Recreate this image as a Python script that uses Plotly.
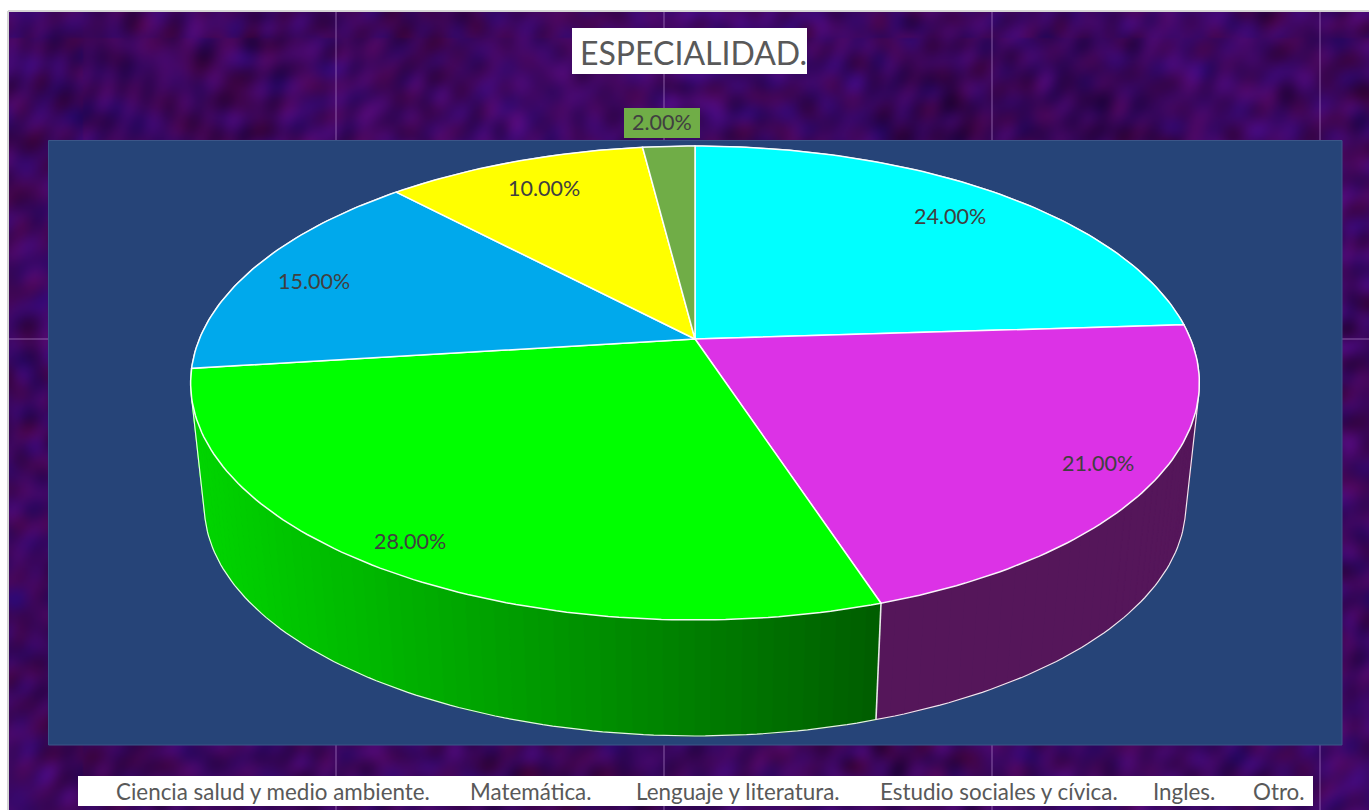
import base64, math, struct, zlib
import numpy as np
import plotly.graph_objects as go

# ---------- data ----------
categories = ["Ciencia salud y medio ambiente.", "Matemática.", "Lenguaje y literatura.",
              "Estudio sociales y cívica.", "Ingles.", "Otro."]
values = [24, 21, 28, 15, 10, 2]
title_text = "ESPECIALIDAD."

# ---------- style ----------
top_colors = ["#00FFFF", "#DC32E6", "#00FF00", "#00A9EC", "#FFFF00", "#70AD47"]
label_radius = [0.822, 0.889, 0.908, 0.847, 0.823, 1.148]
label_turn = [0.8, -0.3, 0.6, -1.8, 0.3, -0.4]
legend_x = [114, 468, 634, 878, 1151, 1251]
FONT = "Lato, Carlito, Calibri, sans-serif"

# projection of the pie (perspective disc seen from above)
CX, CY, A, B, K = 695.0, 339.0, 495.6, 228.8, 0.1857
SHRINK, LOWER_Y = 0.973, 462.6


def project(theta_deg, r=1.0):
    t = np.radians(theta_deg)
    u, v = r * np.sin(t), -r * np.cos(t)
    d = 1 - K * v
    return CX + A * u / d, CY + B * v / d


def lower(x, y):
    return CX + SHRINK * (x - CX), LOWER_Y + SHRINK * (y - CY)


def hull(points):
    pts = sorted(set(points))
    def half(seq):
        out = []
        for p in seq:
            while len(out) > 1 and ((out[-1][0]-out[-2][0])*(p[1]-out[-2][1])
                                    - (out[-1][1]-out[-2][1])*(p[0]-out[-2][0])) <= 0:
                out.pop()
            out.append(p)
        return out[:-1]
    return half(pts) + half(pts[::-1])


total = sum(values)
edges = np.cumsum([0] + values) / total * 360.0
fig = go.Figure()


def poly(xs, ys, fill, line=None, width=1.0):
    fig.add_trace(go.Scatter(x=list(xs), y=list(ys), mode="lines", fill="toself",
                             fillcolor=fill, hoverinfo="skip", showlegend=False,
                             line=dict(color=line or fill, width=width)))


# side wall: dark magenta from the right silhouette to the slice boundary, shaded green after it
def side_color(i, x):
    if i in (0, 1):
        return "#55165A"
    f = min(max((x - 200.0) / (875.0 - 200.0), 0), 1)
    g = 212 - 118 * f
    return f"rgb(0,{g:.0f},0)"


for i in (0, 1, 2):
    start, stop = edges[i], edges[i + 1]
    if i == 0:
        start = 70.0
    n = max(int((stop - start) / 1.5), 2)
    ang = np.linspace(start, stop, n + 1)
    for a0, a1 in zip(ang[:-1], ang[1:]):
        fine = np.linspace(a0, a1, 4)
        xt, yt = project(fine)
        xb, yb = lower(xt, yt)
        c = side_color(i, float(xt.mean()))
        poly(np.r_[xt, xb[::-1], xt[0]], np.r_[yt, yb[::-1], yt[0]], c)

# silhouette and bottom rim
rim = np.linspace(0, 360, 361)
xt, yt = project(rim)
xb, yb = lower(xt, yt)
h = hull([(float(a), float(b)) for a, b in zip(xt, yt)] +
         [(float(a), float(b)) for a, b in zip(xb, yb)])
fig.add_trace(go.Scatter(x=[p[0] for p in h] + [h[0][0]], y=[p[1] for p in h] + [h[0][1]],
                         mode="lines", hoverinfo="skip", showlegend=False,
                         line=dict(color="rgba(255,255,255,0.9)", width=1.2)))

# boundary between the two visible walls
xe, ye = project(edges[2])
xl, yl = lower(xe, ye)
fig.add_trace(go.Scatter(x=[xe, xl], y=[ye, yl], mode="lines", hoverinfo="skip", showlegend=False,
                         line=dict(color="#E8E8E8", width=1.6)))

# top faces
for i, c in enumerate(top_colors):
    ang = np.linspace(edges[i], edges[i + 1], max(int(values[i] * 3.6), 6) + 1)
    xs, ys = project(ang)
    poly(np.r_[CX, xs, CX], np.r_[CY, ys, CY], c, line="rgba(255,255,255,0.95)", width=1.5)

# data labels
annotations = []
for i, v in enumerate(values):
    mid = (edges[i] + edges[i + 1]) / 2 + label_turn[i]
    lx, ly = project(mid, label_radius[i])
    annotations.append(dict(x=float(lx), y=float(ly), yshift=1, text=f"{v / total * 100:.2f}%", showarrow=False,
                            xref="x", yref="y", font=dict(family=FONT, size=21.5, color="#404040")))

annotations.append(dict(x=693, y=52, text=title_text, showarrow=False, xref="x", yref="y",
                        font=dict(family=FONT, size=32, color="#595959")))
for name, x in zip(categories, legend_x):
    annotations.append(dict(x=x, y=791, text=name, showarrow=False, xref="x", yref="y", xanchor="left",
                            font=dict(family=FONT, size=22.4, color="#595959")))


# ---------- mottled wallpaper (smooth interference pattern, purely decorative) ----------
def wallpaper(w=680, h=400):
    yy, xx = np.mgrid[0:h, 0:w].astype(float)
    xx *= 2; yy *= 2
    fine = np.zeros((h, w))
    broad = np.zeros((h, w))
    for i in range(90):
        ang = i * 2.39996
        f = 0.09 + 0.16 * ((i * 0.618034) % 1)
        fine += np.sin(f * (np.cos(ang) * xx + np.sin(ang) * yy) + (i * i * 0.37) % 6.283)
    for i in range(24):
        ang = i * 2.39996 + 0.5
        f = 0.012 + 0.035 * ((i * 0.754878) % 1)
        broad += np.sin(f * (np.cos(ang) * xx + np.sin(ang) * yy) + (i * i * 0.53) % 6.283)
    fine /= fine.std()
    broad /= broad.std()
    n = 0.7 * fine + 0.5 * broad
    red = np.roll(0.7 * np.roll(fine, 37, axis=1) + 0.35 * np.roll(broad, 91, axis=0), 13, axis=0)
    r = np.clip(60 + 5 * n + 6 * red, 30, 105)
    g = np.clip(7 + 1.5 * n, 0, 20)
    b = np.clip(94 + 12 * n - 3 * red, 55, 150)
    img = np.dstack([r, g, b]).astype(np.uint8)
    raw = b"".join(b"\x00" + img[j].tobytes() for j in range(h))
    def chunk(tag, data):
        return struct.pack(">I", len(data)) + tag + data + struct.pack(">I", zlib.crc32(tag + data) & 0xffffffff)
    png = (b"\x89PNG\r\n\x1a\n" + chunk(b"IHDR", struct.pack(">IIBBBBB", w, h, 8, 2, 0, 0, 0))
           + chunk(b"IDAT", zlib.compress(raw, 9)) + chunk(b"IEND", b""))
    return "data:image/png;base64," + base64.b64encode(png).decode()


shapes = []
def rect(x0, y0, x1, y1, fill, line=None, width=0, layer="below"):
    shapes.append(dict(type="rect", x0=x0, y0=y0, x1=x1, y1=y1, xref="x", yref="y", layer=layer,
                       fillcolor=fill, line=dict(color=line or fill, width=width)))
def seg(x0, y0, x1, y1, color, width=1):
    shapes.append(dict(type="line", x0=x0, y0=y0, x1=x1, y1=y1, xref="x", yref="y", layer="below",
                       line=dict(color=color, width=width)))

for sx in (336, 664, 992, 1320):
    seg(sx, 12, sx, 810, "rgba(190,150,215,0.6)")
seg(9, 339, 1369, 339, "rgba(190,150,215,0.6)")
seg(8, 11, 1369, 11, "#D4D4D4", 2)
seg(8, 11, 8, 810, "#D4D4D4", 2)
rect(48.5, 140.5, 1342, 745, "#264478", "#3C5688", 1)
rect(572, 28, 807, 74, "#FFFFFF")
rect(624, 108, 700, 138, "#70AD47")
rect(78, 776, 1313, 806, "#FFFFFF")

fig.update_layout(
    width=1369, height=810, margin=dict(l=0, r=0, t=0, b=0, pad=0), autosize=False,
    paper_bgcolor="#FFFFFF", plot_bgcolor="rgba(0,0,0,0)", showlegend=False,
    xaxis=dict(range=[0, 1369], visible=False, fixedrange=True),
    yaxis=dict(range=[810, 0], visible=False, fixedrange=True),
    shapes=shapes, annotations=annotations,
    images=[dict(source=wallpaper(), xref="paper", yref="paper", x=9 / 1369, y=1 - 12 / 810,
                 sizex=1360 / 1369, sizey=798 / 810,
                 sizing="stretch", xanchor="left", yanchor="top", layer="below")],
)

fig.write_html("out.html", config=dict(displayModeBar=False),
               post_script="document.body.style.margin='0';document.documentElement.style.overflow='hidden';")
